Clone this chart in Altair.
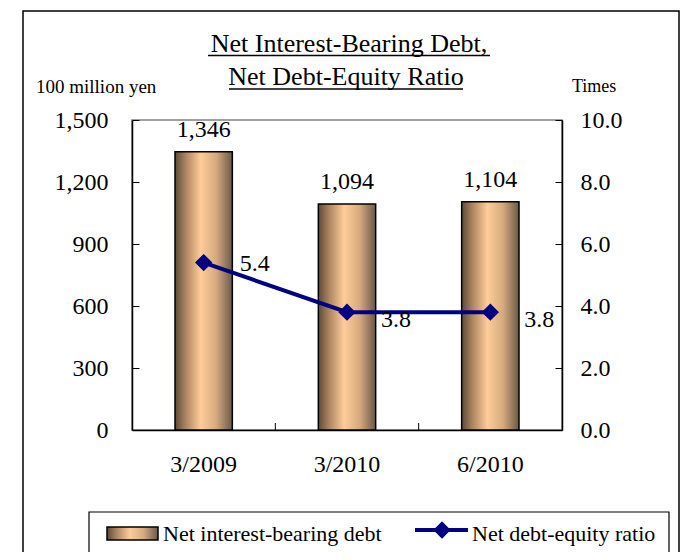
import altair as alt
import pandas as pd

# ---- data ----
periods = ["3/2009", "3/2010", "6/2010"]
debt = [1346, 1094, 1104]
ratio = [5.4, 3.8, 3.8]
debt_ticks = [0, 300, 600, 900, 1200, 1500]
ratio_ticks = [0, 2, 4, 6, 8, 10]
category_bounds = [1, 2]          # boundaries between the three categories
title_lines = ["Net Interest-Bearing Debt,", "Net Debt-Equity Ratio"]
left_unit = "100 million yen"
right_unit = "Times"
legend_labels = ["Net interest-bearing debt", "Net debt-equity ratio"]

FONT = "Liberation Serif"
NAVY = "#000080"

df = pd.DataFrame({"period": periods, "debt": debt, "ratio": ratio,
                   "idx": list(range(len(periods)))})

grad = alt.Gradient(
    gradient="linear",
    stops=[
        alt.GradientStop(color="#5e4a38", offset=0),
        alt.GradientStop(color="#a9835f", offset=0.18),
        alt.GradientStop(color="#ffcc99", offset=0.45),
        alt.GradientStop(color="#d6aa7e", offset=0.72),
        alt.GradientStop(color="#6a5948", offset=1),
    ],
    x1=0, x2=1, y1=0, y2=0,
)

xenc = alt.X(
    "period:N", sort=periods,
    scale=alt.Scale(paddingInner=0.6, paddingOuter=0.3),
    axis=alt.Axis(title=None, labelAngle=0, labelFont=FONT, labelFontSize=24,
                  labelColor="black", labelPadding=22, ticks=False,
                  domainColor="black", domainWidth=1.5, grid=False),
)

ydebt_scale = alt.Scale(domain=[0, 1500], nice=False, zero=True)
yratio_scale = alt.Scale(domain=[0, 10], nice=False, zero=True)

base = alt.Chart(df)

bars = base.mark_bar(fill=grad, stroke="black", strokeWidth=1.5).encode(
    x=xenc,
    y=alt.Y("debt:Q", scale=ydebt_scale,
            axis=alt.Axis(title=None, orient="left", values=debt_ticks, format=",.0f",
                          labelFont=FONT, labelFontSize=24, labelColor="black",
                          labelPadding=24, ticks=False, domainColor="black",
                          domainWidth=1.5, grid=True, gridColor="black",
                          gridWidth=1, gridDash=[7, 1000])),
)
bar_labels = base.mark_text(baseline="bottom", dy=-10, font=FONT, fontSize=24,
                            color="black").encode(
    x=alt.X("period:N", sort=periods),
    y=alt.Y("debt:Q", scale=ydebt_scale),
    text=alt.Text("debt:Q", format=",.0f"),
)
debt_layer = alt.layer(bars, bar_labels)

pt_scale = alt.Scale(type="point", padding=0.5)
line = base.mark_line(color=NAVY, strokeWidth=4).encode(
    x=alt.X("period:N", sort=periods, scale=pt_scale, axis=None),
    y=alt.Y("ratio:Q", scale=yratio_scale,
            axis=alt.Axis(title=None, orient="right", values=ratio_ticks, format=".1f",
                          labelFont=FONT, labelFontSize=24, labelColor="black",
                          labelPadding=18, ticks=False, domainColor="black",
                          domainWidth=1.5, grid=True, gridColor="black",
                          gridWidth=1, gridDash=[7, 1000])),
)
pts = base.mark_point(shape="diamond", filled=True, size=300, color=NAVY,
                      opacity=1).encode(
    x=alt.X("period:N", sort=periods, scale=pt_scale, axis=None),
    y=alt.Y("ratio:Q", scale=yratio_scale),
)
lab1 = base.mark_text(align="left", baseline="middle", dx=36, dy=1, font=FONT,
                      fontSize=24, color="black").encode(
    x=alt.X("period:N", sort=periods, scale=pt_scale, axis=None),
    y=alt.Y("ratio:Q", scale=yratio_scale),
    text=alt.Text("ratio:Q", format=".1f"),
).transform_filter("datum.idx == 0")
lab2 = base.mark_text(align="left", baseline="middle", dx=34, dy=8, font=FONT,
                      fontSize=24, color="black").encode(
    x=alt.X("period:N", sort=periods, scale=pt_scale, axis=None),
    y=alt.Y("ratio:Q", scale=yratio_scale),
    text=alt.Text("ratio:Q", format=".1f"),
).transform_filter("datum.idx > 0")
ratio_layer = alt.layer(line, pts, lab1, lab2)

# inward category ticks on the x axis, at the boundaries between categories
xticks = alt.Chart(pd.DataFrame({"b": category_bounds})).mark_rule(
    color="black", strokeWidth=1).encode(
    x=alt.X("b:Q", scale=alt.Scale(domain=[0, len(periods)], nice=False, zero=True),
            axis=None),
    y=alt.value(303), y2=alt.value(310),
)


def txt(s, x, y, size, align="left"):
    return alt.Chart(pd.DataFrame({"t": [s]})).mark_text(
        align=align, baseline="alphabetic", font=FONT, fontSize=size, color="black"
    ).encode(x=alt.value(x), y=alt.value(y), text="t:N")


def rule(x, x2, y, w=1.5, color="black"):
    return alt.Chart(pd.DataFrame({"a": [0]})).mark_rule(
        color=color, strokeWidth=w).encode(x=alt.value(x), x2=alt.value(x2), y=alt.value(y))


one = pd.DataFrame({"a": [0]})
border = alt.Chart(one).mark_rect(fill="white", fillOpacity=0, stroke="black",
                                  strokeWidth=1.5).encode(
    x=alt.value(-109), x2=alt.value(547), y=alt.value(-109), y2=alt.value(445))

title1 = txt(title_lines[0], 217, -68, 26, "center")
title2 = txt(title_lines[1], 214, -35, 26, "center")
ul1 = rule(76, 358, -64.5, 1.5)
ul2 = rule(97, 331, -31, 1.5)
unit_l = txt(left_unit, -96, -27, 19)
unit_r = txt(right_unit, 440, -28, 18)

leg_box = alt.Chart(one).mark_rect(fill="white", stroke="black", strokeWidth=1.2).encode(
    x=alt.value(-43), x2=alt.value(537), y=alt.value(392), y2=alt.value(433))
leg_sw = alt.Chart(one).mark_rect(fill=grad, stroke="black", strokeWidth=1.5).encode(
    x=alt.value(-25), x2=alt.value(26), y=alt.value(407), y2=alt.value(420))
leg_t1 = txt(legend_labels[0], 31, 421, 22)
leg_line = rule(283, 336, 410, 4, NAVY)
leg_pt = alt.Chart(one).mark_point(shape="diamond", filled=True, size=300, color=NAVY,
                                   opacity=1).encode(x=alt.value(310), y=alt.value(410))
leg_t2 = txt(legend_labels[1], 340, 421, 22)

chart = alt.layer(
    border, title1, title2, ul1, ul2, unit_l, unit_r,
    debt_layer, ratio_layer, xticks,
    leg_box, leg_sw, leg_t1, leg_line, leg_pt, leg_t2,
).resolve_scale(y="independent", x="independent").properties(
    width=430, height=310,
    autosize=alt.AutoSizeParams(type="none"),
    padding={"left": 124, "top": 112, "right": 122, "bottom": 122},
).configure_view(stroke="#808080", strokeWidth=1.5)

chart.save("out.html", embed_options={"renderer": "svg", "actions": False})
